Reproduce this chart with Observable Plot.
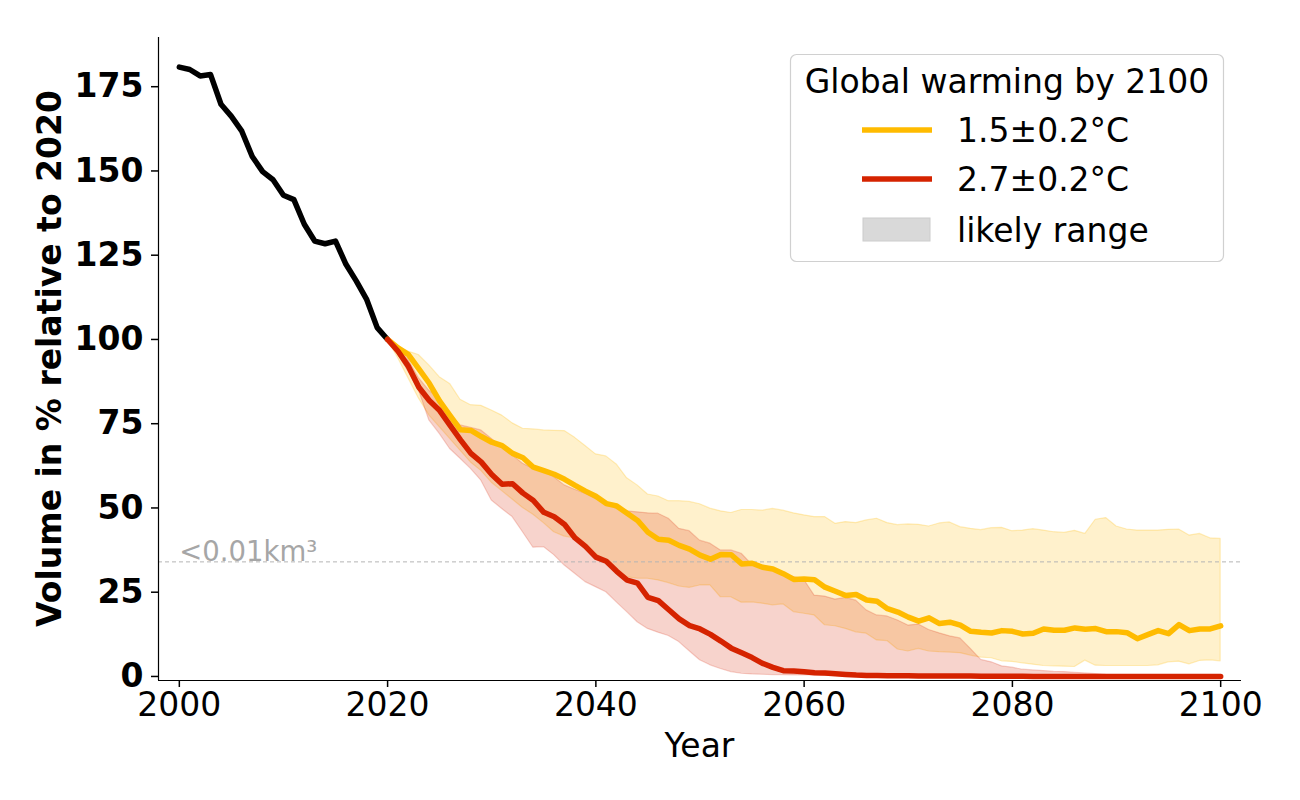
<!DOCTYPE html>
<html>
<head>
<meta charset="utf-8">
<script src="https://cdn.jsdelivr.net/npm/d3@7"></script>
<script src="https://cdn.jsdelivr.net/npm/@observablehq/plot@0.6"></script>
<style>
  body { margin: 0; background: #fff; }
  #chart { position: relative; width: 1300px; height: 800px; }
  #chart svg { font-family: "DejaVu Sans", sans-serif; }
  g[aria-label="y-axis tick label"] text { font-weight: bold; }
</style>
</head>
<body>
<div id="chart"></div>
<script>
// ---------------- data ----------------
const histYears = [2000,2001,2002,2003,2004,2005,2006,2007,2008,2009,2010,2011,2012,2013,2014,2015,2016,2017,2018,2019,2020];
const histVolume = [180.8,180.1,178.2,178.6,169.8,166.2,161.8,154.3,149.8,147.4,142.8,141.5,134.2,129.2,128.4,129.2,122.3,117.3,111.8,103.5,100];

const projYears = d3.range(2020, 2101);

const median15 = [
  100,97.5,95.5,91.3,87.0,81.7,77.4,73.2,73.0,71.2,
  69.5,68.5,66.2,64.9,62.1,61.1,60.0,58.5,56.7,55.0,
  53.5,51.3,50.6,48.4,46.3,42.8,40.7,40.4,38.9,37.8,
  36.0,34.8,36.2,36.1,33.4,33.6,32.4,31.9,30.5,28.8,
  28.9,28.7,26.5,25.3,24.0,24.3,22.7,22.3,20.1,19.1,
  17.6,16.4,17.4,15.7,16.1,15.2,13.4,13.1,12.9,13.6,
  13.4,12.6,12.8,14.1,13.7,13.7,14.4,14.0,14.2,13.3,
  13.3,13.0,11.2,12.4,13.6,12.7,15.4,13.6,14.1,14.1,15.0
];
const upper15 = [
  100,97.9,96.4,95.4,92.3,88.8,86.8,82.1,80.5,80.3,
  78.9,77.4,75.1,73.5,73.3,73.0,72.9,72.8,70.8,68.4,
  65.9,65.3,62.9,58.8,56.7,54.0,53.4,52.0,52.0,51.8,
  51.1,49.8,49.0,48.5,49.4,49.4,49.2,49.7,49.2,48.4,
  47.8,47.3,47.3,45.3,45.8,45.5,46.3,46.8,45.5,44.9,
  45.1,45.0,44.5,45.4,45.7,44.3,43.8,43.4,44.0,44.1,
  43.1,43.3,43.7,43.3,42.8,42.6,43.2,42.3,46.5,47.0,
  44.5,43.6,43.3,43.3,43.3,43.5,43.6,41.8,42.3,41.0,40.8
];
const lower15 = [
  100,94.5,88.5,82.5,77.5,74.0,70.5,67.0,63.5,61.0,
  57.5,55.0,52.5,50.0,48.0,45.5,42.8,41.5,41.0,38.4,
  36.4,34.2,31.4,29.5,29.0,29.0,28.5,27.7,26.7,26.3,
  27.0,27.0,23.5,23.5,21.9,22.0,21.6,21.1,21.4,19.1,
  18.6,18.1,15.2,14.9,14.1,13.1,12.7,10.7,10.5,8.0,
  7.4,8.2,7.4,7.2,7.1,6.9,6.2,5.6,5.4,4.5,
  4.3,3.9,3.5,3.1,3.0,2.9,2.8,4.7,3.2,3.1,
  3.1,3.1,3.1,3.1,3.3,4.2,4.4,3.6,4.6,4.8,4.5
];
const median27 = [
  100,96.5,92.0,85.8,81.9,78.9,74.5,70.2,66.2,63.6,
  59.9,57.0,57.2,54.4,52.2,48.7,47.4,45.1,41.1,38.6,
  35.4,34.2,31.2,28.6,27.7,23.5,22.5,19.8,17.1,15.1,
  14.1,12.5,10.5,8.4,7.0,5.6,3.9,2.7,1.7,1.6,
  1.4,1.1,1.0,0.8,0.6,0.4,0.3,0.3,0.2,0.2,
  0.2,0.1,0.1,0.1,0.1,0.1,0.1,0.05,0.05,0.05,
  0.05,0.05,0,0,0,0,0,0,0,0,
  0,0,0,0,0,0,0,0,0,0,0
];
const upper27 = [
  100,97.0,94.0,88.5,84.8,82.4,77.9,74.5,73.8,73.0,
  70.5,68.0,65.6,63.1,61.6,60.9,59.1,56.7,55.4,54.2,
  52.7,51.4,49.7,49.0,48.7,48.4,48.3,46.8,43.8,43.1,
  40.3,39.4,37.4,37.4,36.4,33.2,32.4,31.4,30.5,29.5,
  28.7,24.0,23.7,22.8,23.3,22.5,19.6,18.1,17.8,16.6,
  15.1,15.4,13.8,12.8,11.9,11.3,8.2,4.9,4.2,3.0,
  2.6,2.0,1.8,1.6,1.4,1.3,1.1,0.9,0.7,0.5,
  0.4,0.3,0.3,0.2,0.2,0.2,0.1,0.1,0.1,0.1,0.1
];
const lower27 = [
  100,95.5,90.5,85.0,76.0,72.0,67.5,64.6,61.6,58.1,
  52.2,49.7,47.3,42.8,38.2,38.4,36.0,32.9,30.5,28.0,
  26.5,25.0,22.0,19.1,16.1,14.1,13.0,12.0,10.2,7.5,
  4.8,3.3,2.2,1.3,0.8,0.6,0.5,0.4,0.4,0.3,
  0.3,0.3,0.2,0.2,0.2,0.1,0.1,0.1,0.1,0.1,
  0.1,0.1,0,0,0,0,0,0,0,0,
  0,0,0,0,0,0,0,0,0,0,
  0,0,0,0,0,0,0,0,0,0,0
];

const thresholdValue = 34;
const thresholdLabel = "<0.01km³";
const thresholdLabelYear = 2000;

const xTicks = [2000, 2020, 2040, 2060, 2080, 2100];
const yTicks = [0, 25, 50, 75, 100, 125, 150, 175];

const xLabel = "Year";
const yLabel = "Volume in % relative to 2020";
const legendTitle = "Global warming by 2100";
const scenarioLabels = ["1.5±0.2°C", "2.7±0.2°C"];
const rangeLabel = "likely range";

// ---------------- styles ----------------
const colHist = "#000000";
const col15 = "#ffbb00";
const col27 = "#d52300";
const lineW = 5.5;

// ---------------- tables ----------------
const hist = histYears.map((year, i) => ({year, v: histVolume[i]}));
const s15 = projYears.map((year, i) => ({year, m: median15[i], lo: lower15[i], hi: upper15[i]}));
const s27 = projYears.map((year, i) => ({year, m: median27[i], lo: lower27[i], hi: upper27[i]}));

const W = 1300, H = 800;
const mL = 158, mR = 59, mT = 37, mB = 120;
const xDomain = [1998, 2102];
const yDomain = [-1.2, 189.6];

const plot = Plot.plot({
  width: W,
  height: H,
  marginLeft: mL,
  marginRight: mR,
  marginTop: mT,
  marginBottom: mB,
  style: {fontFamily: "DejaVu Sans", color: "#000", background: "#fff", overflow: "visible"},
  x: {domain: xDomain},
  y: {domain: yDomain},
  marks: [
    Plot.areaY(s15, {x: "year", y1: "lo", y2: "hi", fill: col15, fillOpacity: 0.2, stroke: col15, strokeOpacity: 0.25, strokeWidth: 1.2}),
    Plot.areaY(s27, {x: "year", y1: "lo", y2: "hi", fill: col27, fillOpacity: 0.2, stroke: col27, strokeOpacity: 0.2, strokeWidth: 1.2}),
    Plot.ruleY([thresholdValue], {stroke: "#b4b4b4", strokeWidth: 1, strokeDasharray: "4,3"}),
    Plot.text([{x: thresholdLabelYear, y: thresholdValue, t: thresholdLabel}], {
      x: "x", y: "y", text: "t", textAnchor: "start", lineAnchor: "bottom", dy: -1,
      fontSize: 27.5, fill: "#a6a6a6"
    }),
    Plot.line(hist, {x: "year", y: "v", stroke: colHist, strokeWidth: lineW, strokeLinejoin: "round"}),
    Plot.line(s15, {x: "year", y: "m", stroke: col15, strokeWidth: lineW, strokeLinejoin: "round"}),
    Plot.line(s27, {x: "year", y: "m", stroke: col27, strokeWidth: lineW, strokeLinejoin: "round"}),
    Plot.axisX({ticks: xTicks, tickFormat: d => String(d), tickSize: 7, tickPadding: 5, fontSize: 33, strokeWidth: 1.5, label: null}),
    Plot.axisY({ticks: yTicks, tickFormat: d => String(d), tickSize: 7, tickPadding: 8, fontSize: 33, fontWeight: "bold", strokeWidth: 1.5, label: null}),
    Plot.ruleX([xDomain[0]], {stroke: "#000", strokeWidth: 1.2}),
    Plot.ruleY([yDomain[0]], {stroke: "#000", strokeWidth: 1.2})
  ]
});

document.getElementById("chart").appendChild(plot);

// axis titles
const svg = d3.select(plot);
svg.append("text")
  .attr("transform", `translate(49,${(mT + (H - mB)) / 2}) rotate(-90)`)
  .attr("text-anchor", "middle")
  .attr("dominant-baseline", "central")
  .attr("font-family", "DejaVu Sans")
  .attr("font-size", 33)
  .attr("font-weight", "bold")
  .attr("fill", "#000")
  .text(yLabel);

svg.append("text")
  .attr("x", mL + (W - mL - mR) / 2)
  .attr("y", 757)
  .attr("text-anchor", "middle")
  .attr("font-family", "DejaVu Sans")
  .attr("font-size", 33)
  .attr("fill", "#000")
  .text(xLabel);

// legend
const lg = svg.append("g").attr("transform", "translate(790,54)").attr("font-family", "DejaVu Sans");
lg.append("rect").attr("x", 0.5).attr("y", 0.5).attr("width", 433).attr("height", 207)
  .attr("rx", 6).attr("fill", "#fff").attr("fill-opacity", 0.85).attr("stroke", "#d0d0d0").attr("stroke-width", 1.2);
lg.append("text").attr("x", 217).attr("y", 27).attr("text-anchor", "middle").attr("dominant-baseline", "central")
  .attr("font-size", 33).attr("fill", "#000").text(legendTitle);
const legendColors = [col15, col27];
scenarioLabels.forEach((lab, i) => {
  const cy = 76 + i * 49;
  lg.append("line").attr("x1", 72).attr("x2", 142).attr("y1", cy).attr("y2", cy)
    .attr("stroke", legendColors[i]).attr("stroke-width", lineW);
  lg.append("text").attr("x", 167).attr("y", cy).attr("text-anchor", "start").attr("dominant-baseline", "central")
    .attr("font-size", 33).attr("fill", "#000").text(lab);
});
lg.append("rect").attr("x", 73).attr("y", 164).attr("width", 67).attr("height", 23)
  .attr("fill", "#d9d9d9").attr("stroke", "#cccccc").attr("stroke-width", 1);
lg.append("text").attr("x", 167).attr("y", 176).attr("text-anchor", "start").attr("dominant-baseline", "central")
  .attr("font-size", 33).attr("fill", "#000").text(rangeLabel);
</script>
</body>
</html>
